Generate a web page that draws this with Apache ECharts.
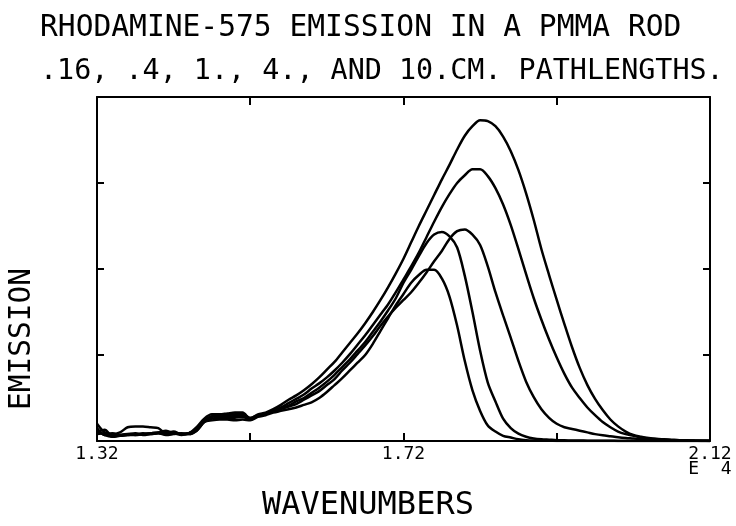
<!DOCTYPE html>
<html>
<head>
<meta charset="utf-8">
<script src="https://cdn.jsdelivr.net/npm/echarts@6/dist/echarts.min.js"></script>
<style>
html,body{margin:0;padding:0;background:#fff;}
#chart{width:736px;height:526px;}
</style>
</head>
<body>
<div id="chart"></div>
<script>
// Wavenumbers (units of 1e4 cm^-1)
const wavenumbers = [
1.32,1.33,1.34,1.35,1.36,1.37,1.38,1.39,1.40,1.41,
1.42,1.43,1.44,1.45,1.46,1.47,1.48,1.49,1.50,1.51,
1.52,1.53,1.54,1.55,1.56,1.57,1.58,1.59,1.60,1.61,
1.62,1.63,1.64,1.65,1.66,1.67,1.68,1.69,1.70,1.71,
1.72,1.73,1.74,1.75,1.76,1.77,1.78,1.79,1.80,1.81,
1.82,1.83,1.84,1.85,1.86,1.87,1.88,1.89,1.90,1.91,
1.92,1.93,1.94,1.95,1.96,1.97,1.98,1.99,2.00,2.01,
2.02,2.03,2.04,2.05,2.06,2.07,2.08,2.09,2.10,2.11,
2.12];

// Emission curves (arbitrary units), five pathlengths
const emissionA = [
0.12,0.07,0.05,0.07,0.08,0.07,0.08,0.09,0.10,0.08,
0.10,0.08,0.09,0.16,0.26,0.31,0.31,0.32,0.33,0.33,
0.26,0.31,0.33,0.37,0.42,0.48,0.53,0.59,0.66,0.74,
0.83,0.92,1.03,1.14,1.25,1.37,1.50,1.64,1.79,1.95,
2.12,2.31,2.50,2.68,2.86,3.04,3.21,3.39,3.55,3.66,
3.73,3.72,3.66,3.54,3.37,3.15,2.88,2.57,2.23,1.93,
1.64,1.36,1.09,0.85,0.65,0.49,0.36,0.25,0.17,0.11,
0.07,0.05,0.035,0.025,0.02,0.015,0.01,0.008,0.005,0.003,
0.002];
const emissionB = [
0.20,0.10,0.08,0.10,0.16,0.17,0.17,0.16,0.15,0.09,
0.11,0.08,0.09,0.13,0.24,0.29,0.30,0.30,0.31,0.31,
0.27,0.30,0.32,0.35,0.39,0.44,0.49,0.54,0.61,0.67,
0.74,0.82,0.91,1.01,1.12,1.23,1.35,1.47,1.59,1.73,
1.88,2.03,2.19,2.37,2.55,2.72,2.87,3.00,3.09,3.16,
3.16,3.08,2.94,2.75,2.51,2.23,1.94,1.66,1.41,1.18,
0.97,0.78,0.62,0.50,0.39,0.30,0.22,0.16,0.11,0.08,
0.06,0.04,0.03,0.02,0.015,0.01,0.008,0.005,0.003,0.002,
0.001];
const emissionC = [
0.10,0.13,0.06,0.06,0.07,0.08,0.07,0.08,0.09,0.07,
0.08,0.09,0.08,0.12,0.22,0.26,0.27,0.27,0.27,0.28,
0.25,0.29,0.31,0.34,0.37,0.40,0.43,0.48,0.53,0.58,
0.65,0.72,0.82,0.91,1.01,1.11,1.22,1.34,1.45,1.55,
1.64,1.73,1.84,1.96,2.09,2.21,2.35,2.44,2.46,2.40,
2.28,2.03,1.73,1.46,1.20,0.93,0.69,0.51,0.37,0.27,
0.20,0.16,0.14,0.12,0.10,0.08,0.066,0.055,0.044,0.035,
0.028,0.02,0.015,0.01,0.008,0.006,0.004,0.003,0.002,0.001,
0.001];
const emissionD = [
0.15,0.07,0.09,0.07,0.08,0.09,0.08,0.09,0.10,0.12,
0.09,0.07,0.09,0.14,0.24,0.28,0.29,0.28,0.29,0.29,
0.26,0.29,0.32,0.35,0.38,0.41,0.46,0.50,0.56,0.62,
0.69,0.77,0.86,0.95,1.05,1.15,1.27,1.39,1.52,1.66,
1.84,1.99,2.15,2.30,2.40,2.43,2.38,2.25,1.92,1.50,
1.05,0.68,0.46,0.26,0.15,0.085,0.05,0.03,0.02,0.015,
0.01,0.008,0.006,0.005,0.004,0.003,0.002,0.002,0.001,0.001,
0,0,0,0,0,0,0,0,0,0,
0];
const emissionE = [
0.08,0.09,0.05,0.06,0.07,0.07,0.09,0.08,0.09,0.08,
0.10,0.08,0.08,0.12,0.22,0.24,0.25,0.25,0.24,0.25,
0.24,0.28,0.30,0.33,0.35,0.37,0.39,0.42,0.45,0.50,
0.57,0.65,0.73,0.82,0.91,1.00,1.13,1.28,1.43,1.58,
1.71,1.84,1.93,1.99,1.99,1.89,1.68,1.34,0.93,0.59,
0.35,0.18,0.11,0.06,0.04,0.02,0.01,0.005,0.003,0.002,
0.001,0,0,0,0,0,0,0,0,0,
0,0,0,0,0,0,0,0,0,0,
0];

const seriesList = [emissionA, emissionB, emissionC, emissionD, emissionE];
const xTickLabels = ['1.32', '1.72', '2.12'];
const titleLine1 = 'RHODAMINE-575 EMISSION IN A PMMA ROD';
const titleLine2 = '.16, .4, 1., 4., AND 10.CM. PATHLENGTHS.';
const xName = 'WAVENUMBERS';
const yName = 'EMISSION';
const exponentLabel = 'E  4';

const FONT = '"DejaVu Sans Mono", "Liberation Mono", monospace';
const chart = echarts.init(document.getElementById('chart'), null, {renderer: 'canvas'});

function axisLine() { return {show: true, onZero: false, lineStyle: {color: '#000', width: 2}}; }
function axisTick(len) { return {show: true, inside: true, length: len, lineStyle: {color: '#000', width: 2}}; }

const option = {
  animation: false,
  backgroundColor: '#fff',
  grid: {left: 97, right: 26, top: 97, bottom: 85},
  xAxis: [
    {
      type: 'value', min: 1.32, max: 2.12, interval: 0.2, position: 'bottom',
      axisLine: axisLine(), axisTick: axisTick(8), splitLine: {show: false},
      axisLabel: {
        show: true, margin: 6, color: '#000',
        fontFamily: FONT, fontSize: 18, lineHeight: 15,
        formatter: function (v) {
          const s = v.toFixed(2);
          if (s === xTickLabels[2]) return s + '\n' + exponentLabel;
          return xTickLabels.indexOf(s) >= 0 ? s : '';
        }
      }
    },
    {
      type: 'value', min: 1.32, max: 2.12, interval: 0.2, position: 'top',
      axisLine: axisLine(), axisTick: axisTick(8), splitLine: {show: false},
      axisLabel: {show: false}
    }
  ],
  yAxis: [
    {
      type: 'value', min: 0, max: 4, interval: 1, position: 'left',
      axisLine: axisLine(), axisTick: axisTick(7), splitLine: {show: false},
      axisLabel: {show: false}
    },
    {
      type: 'value', min: 0, max: 4, interval: 1, position: 'right',
      axisLine: axisLine(), axisTick: axisTick(7), splitLine: {show: false},
      axisLabel: {show: false}
    }
  ],
  series: seriesList.map(function (vals) {
    return {
      type: 'line',
      xAxisIndex: 0, yAxisIndex: 0,
      data: wavenumbers.map(function (w, i) { return [w, vals[i]]; }),
      showSymbol: false,
      smooth: 0.3,
      lineStyle: {color: '#000', width: 2.5},
      silent: true
    };
  }),
  graphic: [
    {type: 'text', left: 40, top: 13, style: {text: titleLine1, font: '29.6px ' + FONT, fill: '#000'}},
    {type: 'text', left: 40, top: 58, style: {text: titleLine2, font: '28.4px ' + FONT, fill: '#000'}},
    {type: 'text', left: 262, top: 490, style: {text: xName, font: '32px ' + FONT, fill: '#000'}},
    {type: 'text', x: 22, y: 339, rotation: Math.PI / 2,
     style: {text: yName, font: '29.5px ' + FONT, fill: '#000', textAlign: 'center', textVerticalAlign: 'middle'}}
  ]
};
chart.setOption(option);
</script>
</body>
</html>
